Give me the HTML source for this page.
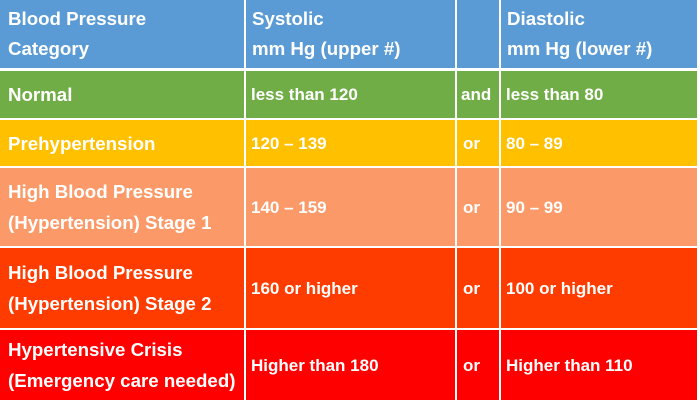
<!DOCTYPE html>
<html><head><style>
body{margin:0;width:700px;height:400px;background:#fff;position:relative;overflow:hidden;font-family:"Liberation Sans",sans-serif;font-weight:bold;color:#fff}
.c{position:absolute;box-sizing:border-box;display:flex;align-items:center;padding-left:5px;line-height:31px}
.a{padding-left:8px;font-size:18.7px}
.h{font-size:18.7px;line-height:30px}
.b{font-size:17px}
</style></head><body>
<div class="c a h" style="left:0;top:0;width:244px;height:68px;background:#5b9bd5">Blood Pressure<br>Category</div>
<div class="c h" style="left:246px;top:0;width:209px;height:68px;background:#5b9bd5;padding-left:6px">Systolic<br>mm Hg (upper #)</div>
<div class="c" style="left:457px;top:0;width:42px;height:68px;background:#5b9bd5"></div>
<div class="c h" style="left:501px;top:0;width:196px;height:68px;background:#5b9bd5;padding-left:6px">Diastolic<br>mm Hg (lower #)</div>

<div class="c a" style="left:0;top:71px;width:244px;height:47px;background:#70ad47">Normal</div>
<div class="c b" style="left:246px;top:71px;width:209px;height:47px;background:#70ad47">less than 120</div>
<div class="c b" style="left:457px;top:71px;width:42px;height:47px;background:#70ad47;padding-left:4px">and</div>
<div class="c b" style="left:501px;top:71px;width:196px;height:47px;background:#70ad47">less than 80</div>

<div class="c a" style="left:0;top:120px;width:244px;height:46px;background:#ffc000">Prehypertension</div>
<div class="c b" style="left:246px;top:120px;width:209px;height:46px;background:#ffc000">120 – 139</div>
<div class="c b" style="left:457px;top:120px;width:42px;height:46px;background:#ffc000;padding-left:6px">or</div>
<div class="c b" style="left:501px;top:120px;width:196px;height:46px;background:#ffc000">80 – 89</div>

<div class="c a" style="left:0;top:168px;width:244px;height:78px;background:#fb9a68">High Blood Pressure<br>(Hypertension) Stage 1</div>
<div class="c b" style="left:246px;top:168px;width:209px;height:78px;background:#fb9a68">140 – 159</div>
<div class="c b" style="left:457px;top:168px;width:42px;height:78px;background:#fb9a68;padding-left:6px">or</div>
<div class="c b" style="left:501px;top:168px;width:196px;height:78px;background:#fb9a68">90 – 99</div>

<div class="c a" style="left:0;top:248px;width:244px;height:80px;background:#ff3c00">High Blood Pressure<br>(Hypertension) Stage 2</div>
<div class="c b" style="left:246px;top:248px;width:209px;height:80px;background:#ff3c00">160 or higher</div>
<div class="c b" style="left:457px;top:248px;width:42px;height:80px;background:#ff3c00;padding-left:6px">or</div>
<div class="c b" style="left:501px;top:248px;width:196px;height:80px;background:#ff3c00">100 or higher</div>

<div class="c a" style="left:0;top:330px;width:244px;height:70px;background:#ff0000">Hypertensive Crisis<br>(Emergency care needed)</div>
<div class="c b" style="left:246px;top:330px;width:209px;height:70px;background:#ff0000">Higher than 180</div>
<div class="c b" style="left:457px;top:330px;width:42px;height:70px;background:#ff0000;padding-left:6px">or</div>
<div class="c b" style="left:501px;top:330px;width:196px;height:70px;background:#ff0000">Higher than 110</div>
</body></html>
